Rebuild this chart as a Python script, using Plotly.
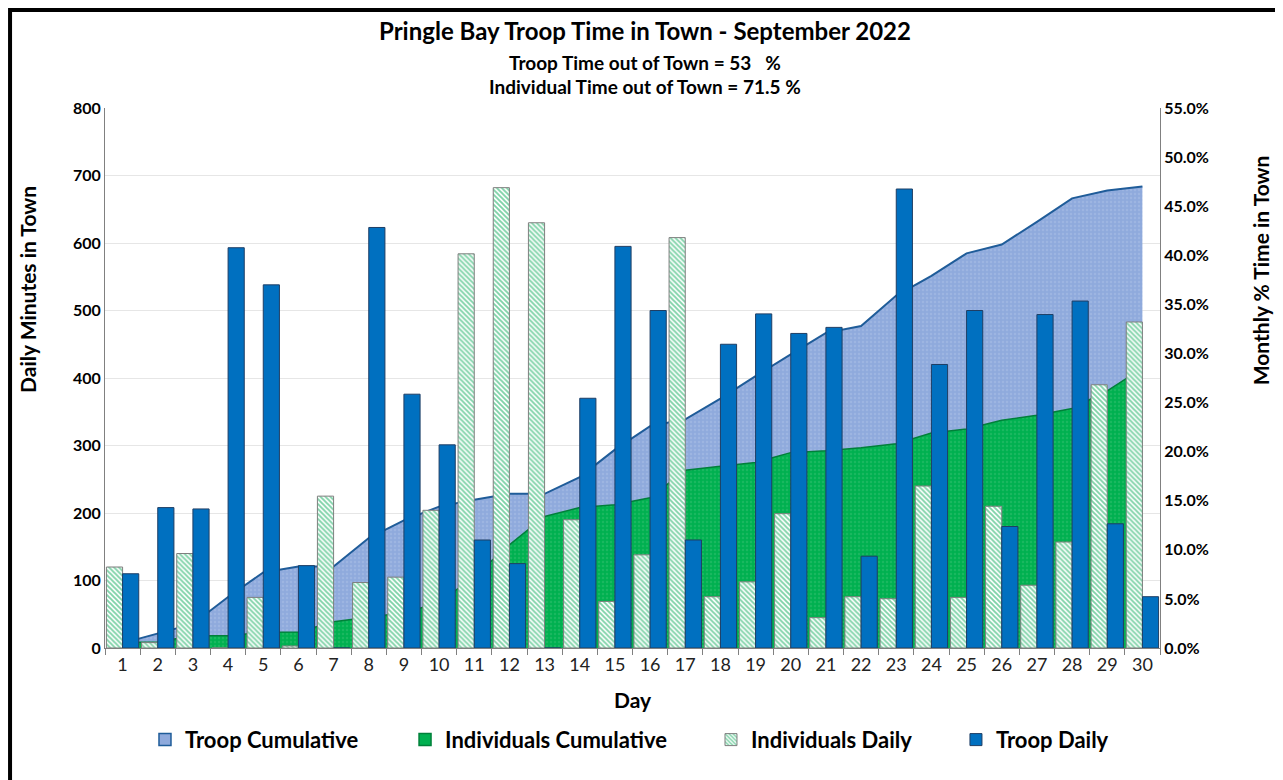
import plotly.graph_objects as go

# Data
days = [str(d) for d in range(1, 31)]

# daily minutes in town (left axis)
troop_daily = [110, 208, 206, 593, 538, 122, 0, 623, 376, 301,
               160, 125, 0, 370, 595, 500, 160, 450, 495, 466,
               475, 136, 680, 420, 500, 180, 494, 514, 184, 76]
individuals_daily = [120, 8, 140, 0, 75, 3, 225, 97, 105, 204,
                     584, 682, 630, 190, 69, 138, 608, 76, 98, 199,
                     45, 76, 73, 240, 75, 210, 93, 157, 390, 483]

# monthly % time in town (right axis)
troop_cum_pct = [0.5, 1.5, 2.45, 5.2, 7.7, 8.3, 8.3, 11.2, 13.0, 14.4,
                 15.1, 15.7, 15.7, 17.4, 20.2, 22.6, 23.3, 25.4, 27.7, 29.9,
                 32.1, 32.8, 35.9, 37.9, 40.2, 41.1, 43.4, 45.8, 46.6, 47.0]
individuals_cum_pct = [0.56, 0.6, 1.25, 1.25, 1.6, 1.62, 2.67, 3.1, 3.6, 4.6,
                       7.3, 10.5, 13.4, 14.3, 14.6, 15.3, 18.1, 18.5, 18.9, 19.9,
                       20.1, 20.4, 20.8, 21.9, 22.3, 23.2, 23.7, 24.4, 26.2, 28.5]

minutes_ticks = list(range(0, 801, 100))
pct_ticks = list(range(0, 56, 5))

FONT = "Lato"
TROOP_FILL, TROOP_LINE = "#8FAADC", "#1F5C99"
IND_FILL, IND_LINE = "#00B050", "#00803A"
HATCH = "#00A651"
TROOP_BAR = "#0070C0"

fig = go.Figure()

# cumulative areas on the percentage axis (drawn underneath the bars)
fig.add_trace(go.Scatter(
    x=days, y=troop_cum_pct, name="Troop Cumulative", showlegend=False,
    mode="lines", fill="tozeroy",
    line=dict(color=TROOP_LINE, width=2),
    fillcolor=TROOP_FILL,
    fillpattern=dict(shape=".", fgcolor="#A9BFE6", bgcolor=TROOP_FILL, size=4, solidity=0.3),
    yaxis="y"
))
fig.add_trace(go.Scatter(
    x=days, y=individuals_cum_pct, name="Individuals Cumulative", showlegend=False,
    mode="lines", fill="tozeroy",
    line=dict(color=IND_LINE, width=1.5),
    fillcolor=IND_FILL,
    fillpattern=dict(shape=".", fgcolor="#33C070", bgcolor=IND_FILL, size=4, solidity=0.3),
    yaxis="y"
))

# legend-only square swatches for the areas
fig.add_trace(go.Bar(
    x=[days[0]], y=[None], name="Troop Cumulative", legend="legend",
    marker=dict(color=TROOP_FILL, line=dict(color=TROOP_LINE, width=1.5)),
    yaxis="y"
))
fig.add_trace(go.Bar(
    x=[days[0]], y=[None], name="Individuals Cumulative", legend="legend2",
    marker=dict(color=IND_FILL, line=dict(color=IND_LINE, width=1.5)),
    yaxis="y"
))

# daily bars on the minutes axis (overlay subplot, drawn on top)
fig.add_trace(go.Bar(
    x=days, y=individuals_daily, name="Individuals Daily", legend="legend3",
    marker=dict(
        color="white",
        line=dict(color="#7F7F7F", width=1),
        pattern=dict(shape="\\", fgcolor=HATCH, bgcolor="white", size=3.5, solidity=0.55)
    ),
    yaxis="y2"
))
fig.add_trace(go.Bar(
    x=days, y=troop_daily, name="Troop Daily", legend="legend4",
    marker=dict(color=TROOP_BAR, line=dict(color="#1F3E64", width=1)),
    yaxis="y2"
))

legend_style = dict(orientation="h", y=-0.170, yanchor="middle", xanchor="left",
                    font=dict(size=22, family=FONT, weight="bold"), itemwidth=30,
                    bgcolor="rgba(0,0,0,0)")

fig.update_layout(
    width=1275, height=772,
    margin=dict(l=97, r=123, t=100, b=132),
    paper_bgcolor="white", plot_bgcolor="white",
    font=dict(family=FONT, color="#000000"),
    barmode="group", bargap=0.08, bargroupgap=0,
    showlegend=True,
    xaxis=dict(
        type="category", tickson="boundaries", ticks="outside", ticklen=6,
        tickcolor="#808080", showline=True, linecolor="#808080", linewidth=1,
        showgrid=False, tickfont=dict(size=18, family=FONT, color="#222222"),
        range=[-0.5, 29.5]
    ),
    yaxis=dict(
        side="right", range=[0, 55], tickvals=pct_ticks,
        ticktext=[f"{v:.1f}%" for v in pct_ticks],
        showgrid=False, zeroline=False, showline=True, linecolor="#808080",
        tickfont=dict(size=16, family=FONT, weight="bold", color="#000000")
    ),
    yaxis2=dict(
        side="left", overlaying="y", range=[0, 800], tickvals=minutes_ticks,
        showgrid=True, gridcolor="#E6E6E6", zeroline=False,
        showline=True, linecolor="#808080",
        tickfont=dict(size=16, family=FONT, weight="bold", color="#000000")
    ),
    legend=dict(legend_style, x=0.0379),
    legend2=dict(legend_style, x=0.2844),
    legend3=dict(legend_style, x=0.5744),
    legend4=dict(legend_style, x=0.8066),
    annotations=[
        dict(text="<b>Pringle Bay Troop Time in Town - September 2022</b>",
             x=0.512, y=1.144, font=dict(size=24, family=FONT)),
        dict(text="<b>Troop Time out of Town = 53   %</b>",
             x=0.512, y=1.085, font=dict(size=19, family=FONT)),
        dict(text="<b>Individual Time out of Town = 71.5 %</b>",
             x=0.512, y=1.039, font=dict(size=19, family=FONT)),
        dict(text="<b>Daily Minutes in Town</b>", textangle=-90,
             x=-0.073, y=0.665, font=dict(size=21, family=FONT)),
        dict(text="<b>Monthly % Time in Town</b>", textangle=-90,
             x=1.095, y=0.70, font=dict(size=21, family=FONT)),
        dict(text="<b>Day</b>",
             x=0.5, y=-0.096, font=dict(size=21, family=FONT)),
    ],
    shapes=[
        # black frame around the whole chart
        dict(type="rect", xref="paper", yref="paper",
             x0=-0.090, x1=1.1147, y0=-0.26, y1=1.1815,
             line=dict(color="black", width=4), layer="above")
    ]
)
fig.update_annotations(xref="paper", yref="paper", showarrow=False,
                       xanchor="center", yanchor="middle")

fig.write_html("out.html")
